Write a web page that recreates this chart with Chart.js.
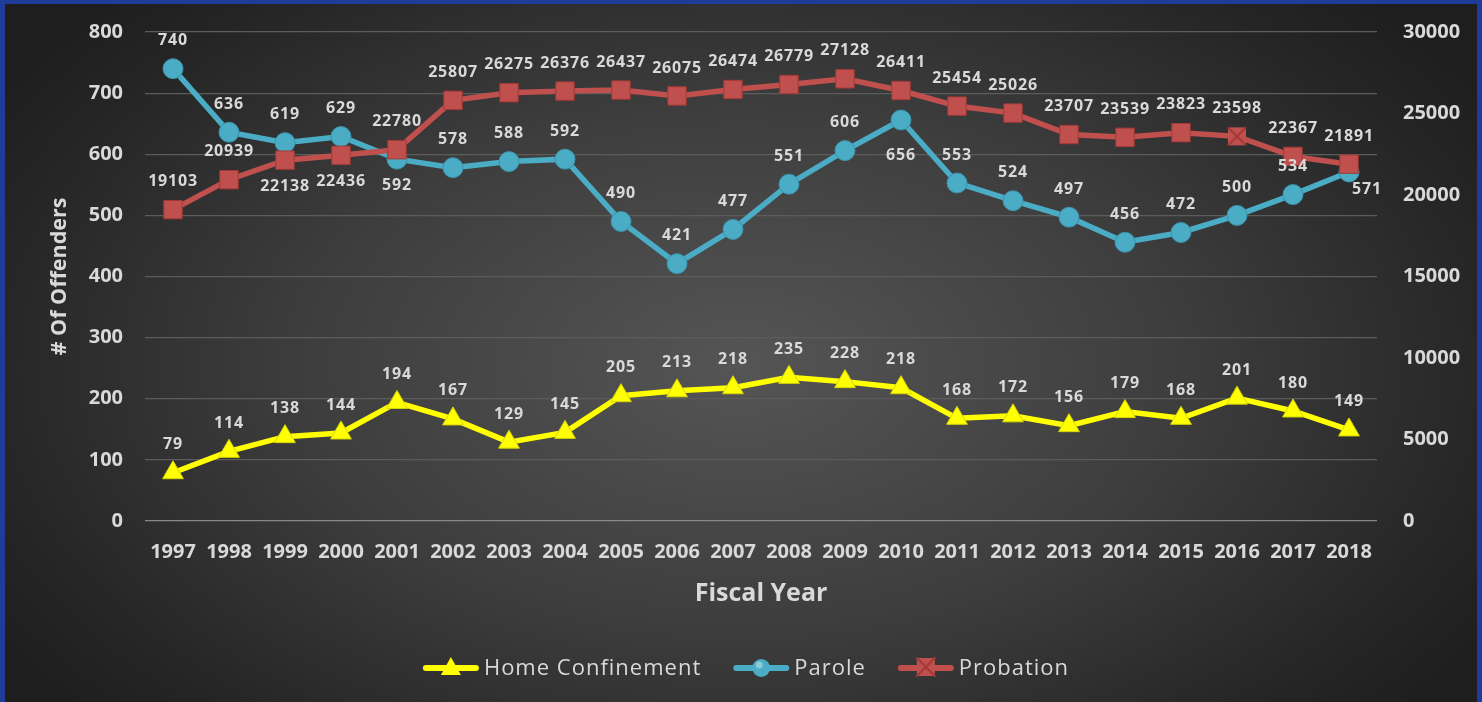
<!DOCTYPE html>
<html>
<head>
<meta charset="utf-8">
<script src="https://cdn.jsdelivr.net/npm/chart.js@4.4.1/dist/chart.umd.min.js"></script>
<style>
  html, body { margin: 0; padding: 0; background: #1f3c9a; overflow: hidden; }
  #wrap {
    position: absolute; left: 5px; top: 4px; width: 1472px; height: 698px;
    background: radial-gradient(ellipse 60% 75% at 50% 52%, #555555 0%, #3d3d3d 50%, #262626 85%, #1e1e1e 100%);
  }
</style>
</head>
<body>
<div id="wrap"><canvas id="offendersChart" width="1472" height="698"></canvas></div>
<script>
const years = ["1997","1998","1999","2000","2001","2002","2003","2004","2005","2006","2007",
               "2008","2009","2010","2011","2012","2013","2014","2015","2016","2017","2018"];
const homeConfinement = [79,114,138,144,194,167,129,145,205,213,218,235,228,218,168,172,156,179,168,201,180,149];
const parole = [740,636,619,629,592,578,588,592,490,421,477,551,606,656,553,524,497,456,472,500,534,571];
const probation = [19103,20939,22138,22436,22780,25807,26275,26376,26437,26075,26474,26779,27128,26411,
                   25454,25026,23707,23539,23823,23598,22367,21891];
const leftTicks = [0,100,200,300,400,500,600,700,800];
const rightTicks = [0,5000,10000,15000,20000,25000,30000];

// where each data label goes: a = above, b = below, r = right
const paroleLabelPos = years.map((y, i) => i === 4 || i === 13 ? 'b' : (i === 21 ? 'r' : 'a'));
const probationLabelPos = years.map((y, i) => i === 2 || i === 3 ? 'b' : 'a');

const YELLOW = '#ffff00', BLUE = '#4bacc6', RED = '#c0504d';
const TXT = '#d9d9d9';
const FONT = "'Open Sans', sans-serif";

function drawIcon(g, x, y, color, style) {
    // x,y = left end / centre line of a 56px wide legend icon
    g.save();
    g.strokeStyle = color; g.lineWidth = 6; g.lineCap = 'round';
    g.beginPath(); g.moveTo(x + 3, y); g.lineTo(x + 53, y); g.stroke();
    g.fillStyle = color;
    const cx = x + 28;
    if (style === 'triangle') {
        g.beginPath(); g.moveTo(cx, y - 11); g.lineTo(cx + 10, y + 7); g.lineTo(cx - 10, y + 7); g.closePath(); g.fill();
    } else if (style === 'circle') {
        g.beginPath(); g.arc(cx, y, 9, 0, Math.PI * 2); g.fill();
        g.fillStyle = 'rgba(255,255,255,0.35)';
        g.beginPath(); g.arc(cx - 2, y - 3, 3.5, 0, Math.PI * 2); g.fill();
    } else {
        g.fillRect(cx - 9, y - 10, 18, 18);
        g.strokeStyle = '#a33a37'; g.lineWidth = 2;
        g.beginPath(); g.moveTo(cx - 9, y - 10); g.lineTo(cx + 9, y + 8); g.moveTo(cx + 9, y - 10); g.lineTo(cx - 9, y + 8); g.stroke();
    }
    g.restore();
}

function markerX() {
    const c = document.createElement('canvas');
    c.width = 20; c.height = 20;
    const g = c.getContext('2d');
    g.fillStyle = RED; g.fillRect(1, 1, 18, 18);
    g.strokeStyle = '#a33a37'; g.lineWidth = 2;
    g.beginPath(); g.moveTo(1, 1); g.lineTo(19, 19); g.moveTo(19, 1); g.lineTo(1, 19); g.stroke();
    return c;
}

const probStyles = years.map((y, i) => i === 19 ? markerX() : 'rect');
const iconStyles = ['triangle', 'circle', 'rect'];

const dataLabels = {
    id: 'dataLabels',
    afterDatasetsDraw(chart) {
        const ctx = chart.ctx;
        ctx.save();
        ctx.font = "bold 16px " + FONT;
        ctx.letterSpacing = '0.8px';
        ctx.fillStyle = TXT;
        ctx.textAlign = 'center';
        ctx.textBaseline = 'middle';
        chart.data.datasets.forEach((ds, di) => {
            const meta = chart.getDatasetMeta(di);
            meta.data.forEach((pt, i) => {
                const pos = ds.labelPos ? ds.labelPos[i] : 'a';
                let x = pt.x, y = pt.y - 28;
                if (pos === 'b') y = pt.y + (di === 1 && i === 13 ? 35 : 26);
                if (pos === 'r') { x = pt.x + 18; y = pt.y + 17; }
                ctx.fillText(ds.data[i], x, y);
            });
        });
        ctx.restore();
    }
};

const bottomLegend = {
    id: 'bottomLegend',
    afterDraw(chart) {
        const ctx = chart.ctx;
        ctx.save();
        ctx.font = "22px " + FONT;
        ctx.letterSpacing = '1px';
        ctx.fillStyle = TXT;
        ctx.textBaseline = 'middle';
        ctx.textAlign = 'left';
        const items = chart.data.datasets.map((ds, i) => ({ ds, w: 56 + 5 + ctx.measureText(ds.label).width }));
        const gap = 32;
        const total = items.reduce((s, it) => s + it.w, 0) + gap * (items.length - 1);
        let x = chart.width / 2 + 5 - total / 2;
        const y = 664;
        items.forEach((it, i) => {
            drawIcon(ctx, x, y, it.ds.borderColor, iconStyles[i]);
            ctx.fillText(it.ds.label, x + 61, y + 1);
            x += it.w + gap;
        });
        ctx.restore();
    }
};

const noPad = (s) => { s.paddingTop = 0; s.paddingBottom = 0; };

const ctx = document.getElementById('offendersChart').getContext('2d');
const chart = new Chart(ctx, {
    type: 'line',
    data: {
        labels: years,
        datasets: [
            { label: 'Home Confinement', data: homeConfinement, yAxisID: 'y', borderColor: YELLOW,
              backgroundColor: YELLOW, borderWidth: 5.5, pointStyle: 'triangle', pointRadius: 12,
              pointBorderColor: '#d6d600', pointBorderWidth: 1, pointHoverRadius: 12, order: 3 },
            { label: 'Parole', data: parole, yAxisID: 'y', borderColor: BLUE, backgroundColor: BLUE,
              borderWidth: 5.5, pointStyle: 'circle', pointRadius: 10, pointBorderColor: '#3a93ab',
              pointBorderWidth: 1, pointHoverRadius: 10, labelPos: paroleLabelPos, order: 2 },
            { label: 'Probation', data: probation, yAxisID: 'y1', borderColor: RED, backgroundColor: RED,
              borderWidth: 5.5, pointStyle: probStyles, pointRadius: 13, pointBorderColor: '#a33a37',
              pointBorderWidth: 1, pointHoverRadius: 13, labelPos: probationLabelPos, order: 1 }
        ]
    },
    options: {
        responsive: false,
        animation: false,
        layout: { padding: { top: 28, right: 0, left: 0, bottom: 66 } },
        plugins: {
            tooltip: { enabled: false },
            legend: { display: false }
        },
        scales: {
            x: {
                offset: true,
                grid: { display: false, drawTicks: false },
                border: { display: false },
                ticks: { color: TXT, font: { family: FONT, size: 20, weight: 'bold' }, padding: 19, maxRotation: 0 },
                title: { display: true, text: 'Fiscal Year', color: TXT,
                         font: { family: FONT, size: 25, weight: 'bold', lineHeight: 1.2 }, padding: { bottom: 27 } },
                afterFit: (s) => { s.height = 115; s.paddingLeft = 0; s.paddingRight = 0; }
            },
            y: {
                position: 'left',
                min: 0, max: 800,
                afterBuildTicks: (s) => { s.ticks = leftTicks.map(v => ({ value: v })); },
                grid: { color: (c) => c.tick && c.tick.value === 0 ? '#888888' : '#5c5c5c', lineWidth: 1.2, drawTicks: false },
                border: { display: false },
                ticks: { color: TXT, font: { family: FONT, size: 20, weight: 'bold' }, padding: 22 },
                title: { display: true, text: '# Of Offenders', color: TXT,
                         font: { family: FONT, size: 21.5, weight: 'bold', lineHeight: 1.2 }, padding: { top: 42 } },
                afterFit: (s) => { s.width = 140; noPad(s); }
            },
            y1: {
                position: 'right',
                min: 0, max: 30000,
                afterBuildTicks: (s) => { s.ticks = rightTicks.map(v => ({ value: v })); },
                grid: { display: false, drawTicks: false },
                border: { display: false },
                ticks: { color: TXT, font: { family: FONT, size: 20, weight: 'bold' }, padding: 26,
                         callback: (v) => String(v) },
                afterFit: (s) => { s.width = 100; noPad(s); }
            }
        }
    },
    plugins: [dataLabels, bottomLegend]
});
</script>
</body>
</html>
